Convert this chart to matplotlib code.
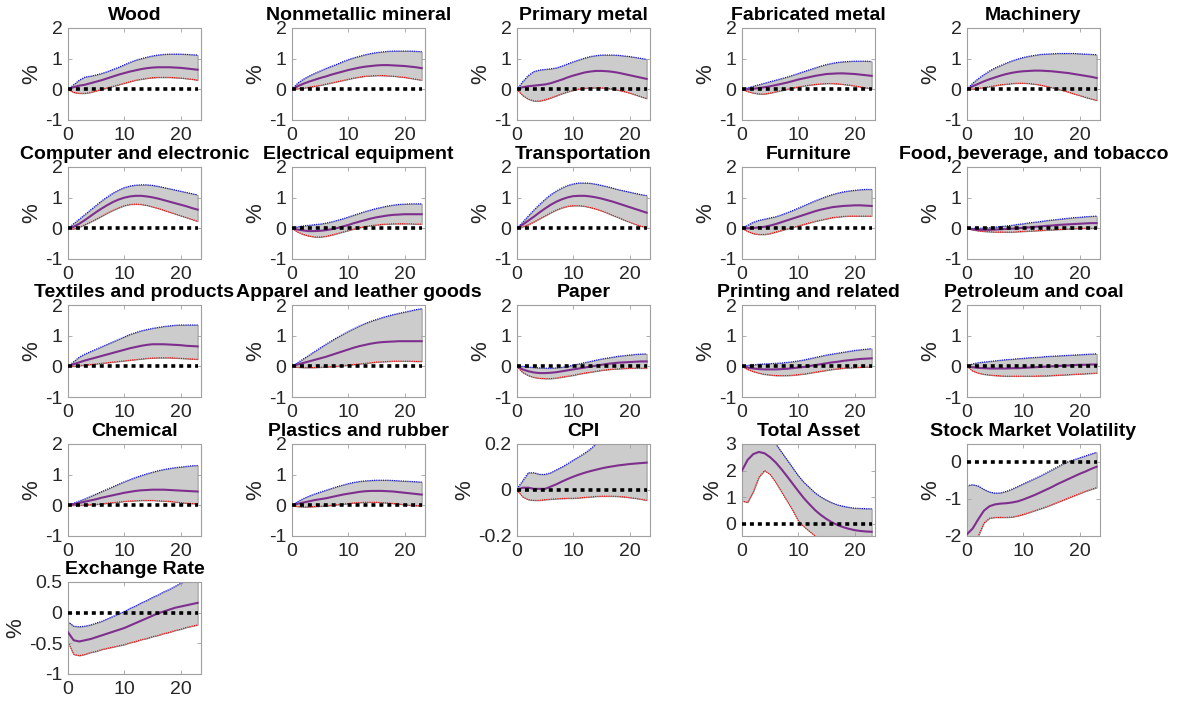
import numpy as np
import matplotlib
matplotlib.use('Agg')
import matplotlib.pyplot as plt

plt.rcParams['font.family'] = ['Liberation Sans', 'DejaVu Sans']

# horizons 0..23
h = list(range(24))

titles = ['Wood', 'Nonmetallic mineral', 'Primary metal', 'Fabricated metal', 'Machinery',
          'Computer and electronic', 'Electrical equipment', 'Transportation', 'Furniture',
          'Food, beverage, and tobacco',
          'Textiles and products', 'Apparel and leather goods', 'Paper', 'Printing and related',
          'Petroleum and coal',
          'Chemical', 'Plastics and rubber', 'CPI', 'Total Asset', 'Stock Market Volatility',
          'Exchange Rate']

# %% impulse responses: median, upper band, lower band
wood_med = [0, 0.07, 0.12, 0.15, 0.2, 0.25, 0.3, 0.36, 0.42, 0.48, 0.53, 0.58, 0.62, 0.66, 0.69, 0.71, 0.72, 0.72, 0.72, 0.71, 0.7, 0.68, 0.66, 0.64]
wood_up = [0, 0.15, 0.3, 0.4, 0.43, 0.47, 0.52, 0.58, 0.65, 0.72, 0.8, 0.88, 0.95, 1.0, 1.05, 1.09, 1.12, 1.14, 1.15, 1.15, 1.15, 1.14, 1.13, 1.12]
wood_lo = [0, -0.1, -0.13, -0.13, -0.1, -0.05, 0.0, 0.05, 0.1, 0.15, 0.2, 0.25, 0.3, 0.33, 0.36, 0.38, 0.39, 0.39, 0.39, 0.38, 0.37, 0.35, 0.33, 0.3]

nonmet_med = [0, 0.1, 0.18, 0.25, 0.31, 0.37, 0.42, 0.48, 0.53, 0.58, 0.63, 0.67, 0.71, 0.74, 0.76, 0.78, 0.79, 0.79, 0.78, 0.77, 0.76, 0.74, 0.72, 0.69]
nonmet_up = [0, 0.2, 0.33, 0.43, 0.52, 0.6, 0.68, 0.75, 0.82, 0.9, 0.97, 1.03, 1.08, 1.13, 1.17, 1.2, 1.22, 1.24, 1.25, 1.25, 1.25, 1.25, 1.24, 1.23]
nonmet_lo = [0, 0.02, 0.04, 0.07, 0.1, 0.13, 0.17, 0.21, 0.25, 0.29, 0.33, 0.37, 0.4, 0.43, 0.44, 0.45, 0.45, 0.44, 0.43, 0.41, 0.39, 0.36, 0.33, 0.3]

primet_med = [0, 0.07, 0.1, 0.12, 0.14, 0.16, 0.2, 0.26, 0.32, 0.39, 0.45, 0.5, 0.55, 0.58, 0.6, 0.6, 0.59, 0.57, 0.54, 0.5, 0.46, 0.42, 0.38, 0.34]
primet_up = [0, 0.25, 0.45, 0.58, 0.63, 0.65, 0.67, 0.7, 0.76, 0.83, 0.9, 0.96, 1.02, 1.07, 1.1, 1.12, 1.12, 1.12, 1.11, 1.09, 1.07, 1.04, 1.01, 0.98]
primet_lo = [0, -0.2, -0.32, -0.38, -0.38, -0.34, -0.28, -0.21, -0.14, -0.08, -0.03, 0.01, 0.03, 0.05, 0.05, 0.05, 0.03, 0.01, -0.03, -0.07, -0.12, -0.18, -0.24, -0.3]

fabmet_med = [0, 0.0, 0.02, 0.04, 0.07, 0.1, 0.14, 0.18, 0.22, 0.27, 0.32, 0.36, 0.4, 0.44, 0.47, 0.5, 0.51, 0.52, 0.52, 0.51, 0.5, 0.48, 0.46, 0.44]
fabmet_up = [0, 0.05, 0.1, 0.15, 0.2, 0.25, 0.3, 0.35, 0.4, 0.46, 0.52, 0.58, 0.64, 0.7, 0.76, 0.81, 0.85, 0.88, 0.9, 0.91, 0.92, 0.92, 0.92, 0.91]
fabmet_lo = [0, -0.07, -0.12, -0.15, -0.15, -0.12, -0.08, -0.04, 0.0, 0.04, 0.08, 0.11, 0.14, 0.16, 0.18, 0.19, 0.19, 0.18, 0.16, 0.14, 0.11, 0.08, 0.05, 0.02]

mach_med = [0, 0.1, 0.18, 0.26, 0.33, 0.39, 0.45, 0.5, 0.54, 0.57, 0.59, 0.6, 0.61, 0.61, 0.6, 0.59, 0.57, 0.55, 0.53, 0.5, 0.47, 0.44, 0.41, 0.37]
mach_up = [0, 0.2, 0.35, 0.48, 0.6, 0.7, 0.78, 0.86, 0.93, 0.99, 1.04, 1.08, 1.11, 1.14, 1.15, 1.16, 1.17, 1.17, 1.17, 1.17, 1.16, 1.15, 1.14, 1.13]
mach_lo = [0, 0.01, 0.03, 0.06, 0.09, 0.12, 0.15, 0.17, 0.19, 0.2, 0.2, 0.19, 0.17, 0.14, 0.1, 0.06, 0.01, -0.04, -0.09, -0.15, -0.2, -0.26, -0.31, -0.36]

comp_med = [0, 0.05, 0.15, 0.27, 0.4, 0.53, 0.65, 0.76, 0.86, 0.94, 1.0, 1.04, 1.06, 1.06, 1.04, 1.01, 0.97, 0.92, 0.87, 0.82, 0.77, 0.72, 0.66, 0.61]
comp_up = [0, 0.15, 0.3, 0.45, 0.6, 0.75, 0.9, 1.03, 1.15, 1.25, 1.33, 1.38, 1.41, 1.42, 1.42, 1.4, 1.37, 1.33, 1.29, 1.25, 1.21, 1.17, 1.13, 1.09]
comp_lo = [0, -0.02, 0.04, 0.12, 0.21, 0.3, 0.4, 0.5, 0.59, 0.67, 0.74, 0.78, 0.79, 0.78, 0.75, 0.7, 0.65, 0.59, 0.53, 0.47, 0.41, 0.35, 0.29, 0.23]

elec_med = [0, -0.04, -0.07, -0.09, -0.09, -0.08, -0.06, -0.03, 0.01, 0.06, 0.11, 0.17, 0.22, 0.27, 0.32, 0.36, 0.39, 0.42, 0.44, 0.45, 0.46, 0.46, 0.46, 0.46]
elec_up = [0, 0.05, 0.08, 0.1, 0.12, 0.14, 0.17, 0.21, 0.26, 0.31, 0.37, 0.43, 0.49, 0.55, 0.6, 0.65, 0.69, 0.73, 0.76, 0.78, 0.79, 0.8, 0.8, 0.8]
elec_lo = [0, -0.12, -0.2, -0.25, -0.28, -0.28, -0.26, -0.22, -0.17, -0.12, -0.07, -0.02, 0.02, 0.06, 0.09, 0.11, 0.13, 0.14, 0.15, 0.15, 0.15, 0.15, 0.14, 0.14]

trans_med = [0, 0.12, 0.25, 0.38, 0.52, 0.65, 0.77, 0.87, 0.95, 1.01, 1.05, 1.06, 1.06, 1.04, 1.01, 0.97, 0.92, 0.87, 0.81, 0.75, 0.69, 0.63, 0.57, 0.51]
trans_up = [0, 0.2, 0.4, 0.6, 0.78, 0.95, 1.1, 1.22, 1.32, 1.4, 1.45, 1.48, 1.48, 1.47, 1.44, 1.4, 1.36, 1.31, 1.26, 1.22, 1.18, 1.14, 1.1, 1.07]
trans_lo = [0, 0.05, 0.12, 0.21, 0.31, 0.41, 0.51, 0.6, 0.67, 0.72, 0.74, 0.74, 0.72, 0.68, 0.63, 0.57, 0.5, 0.42, 0.35, 0.27, 0.2, 0.13, 0.07, 0.03]

furn_med = [0, 0.0, 0.01, 0.03, 0.05, 0.09, 0.14, 0.2, 0.26, 0.32, 0.38, 0.44, 0.5, 0.56, 0.61, 0.65, 0.69, 0.71, 0.73, 0.74, 0.75, 0.75, 0.74, 0.73]
furn_up = [0, 0.1, 0.2, 0.26, 0.3, 0.34, 0.38, 0.44, 0.51, 0.58, 0.66, 0.74, 0.82, 0.9, 0.97, 1.04, 1.1, 1.15, 1.19, 1.22, 1.24, 1.26, 1.27, 1.27]
furn_lo = [0, -0.1, -0.17, -0.2, -0.2, -0.17, -0.12, -0.07, -0.02, 0.03, 0.08, 0.13, 0.18, 0.23, 0.27, 0.31, 0.35, 0.37, 0.39, 0.4, 0.4, 0.4, 0.4, 0.4]

food_med = [0, -0.03, -0.05, -0.05, -0.05, -0.04, -0.03, -0.02, -0.01, 0.0, 0.02, 0.03, 0.05, 0.06, 0.08, 0.09, 0.11, 0.12, 0.13, 0.14, 0.15, 0.16, 0.17, 0.17]
food_up = [0, 0.0, 0.0, 0.01, 0.02, 0.04, 0.06, 0.08, 0.1, 0.13, 0.15, 0.18, 0.2, 0.22, 0.25, 0.27, 0.29, 0.31, 0.33, 0.35, 0.36, 0.38, 0.39, 0.4]
food_lo = [0, -0.05, -0.08, -0.1, -0.11, -0.12, -0.12, -0.12, -0.12, -0.11, -0.1, -0.09, -0.08, -0.07, -0.06, -0.05, -0.04, -0.03, -0.02, -0.01, 0.0, 0.0, 0.0, 0.0]

text_med = [0, 0.07, 0.13, 0.19, 0.24, 0.29, 0.34, 0.39, 0.44, 0.49, 0.54, 0.59, 0.63, 0.67, 0.7, 0.72, 0.72, 0.72, 0.71, 0.7, 0.69, 0.67, 0.66, 0.65]
text_up = [0, 0.15, 0.3, 0.4, 0.48, 0.56, 0.64, 0.72, 0.8, 0.88, 0.96, 1.04, 1.1, 1.16, 1.2, 1.24, 1.27, 1.3, 1.32, 1.34, 1.35, 1.35, 1.35, 1.35]
text_lo = [0, 0.0, 0.02, 0.04, 0.06, 0.08, 0.1, 0.12, 0.14, 0.16, 0.18, 0.2, 0.22, 0.24, 0.26, 0.27, 0.28, 0.28, 0.28, 0.27, 0.26, 0.25, 0.24, 0.23]

app_med = [0, 0.06, 0.11, 0.16, 0.21, 0.26, 0.31, 0.37, 0.43, 0.49, 0.55, 0.61, 0.66, 0.7, 0.74, 0.77, 0.79, 0.8, 0.81, 0.82, 0.82, 0.82, 0.82, 0.82]
app_up = [0, 0.12, 0.24, 0.36, 0.48, 0.6, 0.72, 0.83, 0.94, 1.04, 1.14, 1.23, 1.32, 1.4, 1.47, 1.53, 1.59, 1.64, 1.69, 1.73, 1.77, 1.81, 1.85, 1.88]
app_lo = [0, -0.03, -0.04, -0.04, -0.04, -0.03, -0.02, -0.01, 0.0, 0.02, 0.04, 0.06, 0.08, 0.1, 0.12, 0.14, 0.15, 0.16, 0.17, 0.17, 0.17, 0.17, 0.16, 0.16]

paper_med = [0, -0.1, -0.16, -0.2, -0.22, -0.22, -0.21, -0.19, -0.16, -0.13, -0.1, -0.07, -0.04, -0.01, 0.02, 0.05, 0.08, 0.1, 0.12, 0.13, 0.14, 0.15, 0.16, 0.16]
paper_up = [0, 0.0, -0.02, -0.04, -0.05, -0.06, -0.06, -0.05, -0.03, 0.0, 0.04, 0.08, 0.12, 0.16, 0.2, 0.24, 0.27, 0.3, 0.33, 0.35, 0.37, 0.39, 0.4, 0.41]
paper_lo = [0, -0.2, -0.3, -0.36, -0.39, -0.4, -0.4, -0.38, -0.35, -0.32, -0.29, -0.25, -0.22, -0.19, -0.16, -0.13, -0.11, -0.09, -0.08, -0.07, -0.06, -0.06, -0.06, -0.06]

print_med = [0, -0.04, -0.07, -0.09, -0.1, -0.1, -0.1, -0.09, -0.08, -0.06, -0.04, -0.02, 0.01, 0.04, 0.07, 0.1, 0.13, 0.15, 0.18, 0.2, 0.22, 0.24, 0.25, 0.26]
print_up = [0, 0.03, 0.05, 0.07, 0.08, 0.09, 0.1, 0.11, 0.13, 0.15, 0.18, 0.21, 0.25, 0.29, 0.33, 0.37, 0.4, 0.43, 0.46, 0.49, 0.52, 0.54, 0.56, 0.58]
print_lo = [0, -0.1, -0.17, -0.22, -0.26, -0.28, -0.3, -0.3, -0.3, -0.29, -0.27, -0.25, -0.22, -0.19, -0.16, -0.13, -0.1, -0.08, -0.06, -0.05, -0.04, -0.03, -0.02, -0.02]

petro_med = [0, -0.03, -0.05, -0.06, -0.07, -0.07, -0.07, -0.07, -0.06, -0.06, -0.05, -0.04, -0.03, -0.02, -0.01, 0.0, 0.01, 0.02, 0.03, 0.04, 0.05, 0.05, 0.06, 0.06]
petro_up = [0, 0.08, 0.12, 0.14, 0.16, 0.18, 0.2, 0.22, 0.23, 0.25, 0.26, 0.28, 0.29, 0.3, 0.32, 0.33, 0.34, 0.35, 0.36, 0.37, 0.38, 0.39, 0.4, 0.41]
petro_lo = [0, -0.15, -0.22, -0.26, -0.28, -0.3, -0.31, -0.32, -0.32, -0.32, -0.32, -0.32, -0.32, -0.31, -0.31, -0.3, -0.29, -0.28, -0.27, -0.26, -0.25, -0.24, -0.23, -0.22]

chem_med = [0, 0.04, 0.08, 0.12, 0.16, 0.2, 0.25, 0.29, 0.33, 0.37, 0.41, 0.44, 0.47, 0.49, 0.5, 0.51, 0.51, 0.51, 0.5, 0.49, 0.48, 0.47, 0.46, 0.45]
chem_up = [0, 0.07, 0.14, 0.21, 0.29, 0.37, 0.45, 0.53, 0.61, 0.69, 0.77, 0.84, 0.91, 0.97, 1.03, 1.08, 1.13, 1.17, 1.2, 1.23, 1.25, 1.27, 1.29, 1.3]
chem_lo = [0, 0.0, 0.0, 0.01, 0.02, 0.03, 0.05, 0.07, 0.09, 0.11, 0.13, 0.14, 0.15, 0.16, 0.16, 0.16, 0.15, 0.14, 0.13, 0.11, 0.09, 0.07, 0.06, 0.05]

plast_med = [0, 0.05, 0.09, 0.13, 0.17, 0.2, 0.23, 0.27, 0.31, 0.35, 0.38, 0.41, 0.44, 0.46, 0.47, 0.47, 0.47, 0.46, 0.45, 0.43, 0.41, 0.39, 0.37, 0.35]
plast_up = [0, 0.12, 0.22, 0.3, 0.37, 0.43, 0.49, 0.55, 0.61, 0.66, 0.71, 0.75, 0.78, 0.8, 0.81, 0.82, 0.82, 0.82, 0.81, 0.8, 0.79, 0.78, 0.77, 0.76]
plast_lo = [0, -0.04, -0.05, -0.05, -0.04, -0.03, -0.02, 0.0, 0.02, 0.04, 0.06, 0.08, 0.09, 0.1, 0.1, 0.1, 0.09, 0.08, 0.06, 0.04, 0.02, 0.0, -0.01, -0.02]

cpi_med = [0, 0.01, 0.01, 0.005, 0.005, 0.005, 0.015, 0.025, 0.037, 0.048, 0.058, 0.067, 0.075, 0.082, 0.088, 0.094, 0.099, 0.103, 0.107, 0.11, 0.113, 0.115, 0.117, 0.119]
cpi_up = [0.005, 0.04, 0.075, 0.075, 0.068, 0.068, 0.075, 0.088, 0.1, 0.115, 0.13, 0.145, 0.16, 0.178, 0.2, 0.21, 0.225, 0.24, 0.25, 0.26, 0.27, 0.28, 0.29, 0.3]
cpi_lo = [0, -0.03, -0.042, -0.045, -0.045, -0.042, -0.04, -0.038, -0.037, -0.036, -0.036, -0.034, -0.032, -0.03, -0.028, -0.027, -0.027, -0.027, -0.028, -0.03, -0.033, -0.036, -0.04, -0.045]

asset_med = [2.0, 2.4, 2.62, 2.7, 2.65, 2.5, 2.3, 2.05, 1.78, 1.5, 1.22, 0.95, 0.72, 0.5, 0.32, 0.17, 0.04, -0.06, -0.14, -0.2, -0.25, -0.28, -0.3, -0.31]
asset_up = [2.95, 3.4, 3.6, 3.65, 3.55, 3.3, 3.0, 2.7, 2.4, 2.1, 1.8, 1.55, 1.35, 1.15, 1.0, 0.88, 0.78, 0.7, 0.65, 0.61, 0.58, 0.57, 0.56, 0.56]
asset_lo = [0.85, 0.8, 1.2, 1.75, 2.0, 1.85, 1.55, 1.2, 0.85, 0.5, 0.1, -0.12, -0.3, -0.47, -0.62, -0.75, -0.85, -0.93, -1.0, -1.05, -1.08, -1.1, -1.11, -1.12]

vol_med = [-1.95, -1.8, -1.55, -1.32, -1.2, -1.15, -1.13, -1.12, -1.1, -1.07, -1.02, -0.96, -0.9, -0.83, -0.76, -0.69, -0.61, -0.54, -0.47, -0.4, -0.33, -0.27, -0.2, -0.14]
vol_up = [-0.65, -0.62, -0.66, -0.75, -0.82, -0.85, -0.84, -0.8, -0.74, -0.67, -0.6, -0.53, -0.46, -0.39, -0.31, -0.23, -0.15, -0.07, 0.0, 0.05, 0.1, 0.15, 0.2, 0.25]
vol_lo = [-3.0, -2.5, -2.0, -1.65, -1.52, -1.5, -1.5, -1.5, -1.49, -1.46, -1.42, -1.37, -1.32, -1.27, -1.22, -1.16, -1.1, -1.04, -0.98, -0.92, -0.86, -0.8, -0.75, -0.7]

fx_med = [-0.32, -0.45, -0.47, -0.45, -0.43, -0.4, -0.37, -0.34, -0.31, -0.28, -0.25, -0.21, -0.17, -0.13, -0.09, -0.05, -0.01, 0.02, 0.05, 0.08, 0.1, 0.12, 0.14, 0.16]
fx_up = [-0.15, -0.22, -0.23, -0.22, -0.2, -0.17, -0.14, -0.1, -0.06, -0.02, 0.02, 0.07, 0.11, 0.16, 0.2, 0.25, 0.29, 0.34, 0.38, 0.43, 0.48, 0.52, 0.56, 0.6]
fx_lo = [-0.48, -0.68, -0.7, -0.68, -0.65, -0.63, -0.6, -0.58, -0.56, -0.54, -0.52, -0.49, -0.47, -0.44, -0.42, -0.39, -0.37, -0.34, -0.32, -0.29, -0.27, -0.24, -0.22, -0.2]

meds = [wood_med, nonmet_med, primet_med, fabmet_med, mach_med, comp_med, elec_med, trans_med,
        furn_med, food_med, text_med, app_med, paper_med, print_med, petro_med, chem_med,
        plast_med, cpi_med, asset_med, vol_med, fx_med]
ups = [wood_up, nonmet_up, primet_up, fabmet_up, mach_up, comp_up, elec_up, trans_up,
       furn_up, food_up, text_up, app_up, paper_up, print_up, petro_up, chem_up,
       plast_up, cpi_up, asset_up, vol_up, fx_up]
los = [wood_lo, nonmet_lo, primet_lo, fabmet_lo, mach_lo, comp_lo, elec_lo, trans_lo,
       furn_lo, food_lo, text_lo, app_lo, paper_lo, print_lo, petro_lo, chem_lo,
       plast_lo, cpi_lo, asset_lo, vol_lo, fx_lo]

# special axes limits / ticks
ylims = {'CPI': (-0.2, 0.2), 'Total Asset': (-0.47, 3), 'Stock Market Volatility': (-2, 0.47),
         'Exchange Rate': (-1, 0.5)}
yticks = {'CPI': [-0.2, 0, 0.2], 'Total Asset': [0, 1, 2, 3], 'Stock Market Volatility': [-2, -1, 0],
          'Exchange Rate': [-1, -0.5, 0, 0.5]}

# %%
W, H = 1181, 702
fig = plt.figure(figsize=(W / 100, H / 100), dpi=100)

col_left = [68, 292, 517, 742, 967]
row_top = [28, 167, 305, 444, 582]
aw, ah = 133, 92

purple = (0.494, 0.184, 0.556)
edge = '#a0a0a0'

for i, name in enumerate(titles):
    r, c = divmod(i, 5)
    ax = fig.add_axes([col_left[c] / W, 1 - (row_top[r] + ah) / H, aw / W, ah / H])
    ax.fill_between(h, los[i], ups[i], color='#cccccc', edgecolor='#888888', linewidth=0.6, zorder=1)
    ax.plot(h, ups[i], color='blue', linestyle=(0, (1, 1)), linewidth=0.8, zorder=2)
    ax.plot(h, los[i], color='red', linestyle=(0, (1, 1)), linewidth=0.8, zorder=2)
    ax.plot(h, meds[i], color=purple, linewidth=1.5, zorder=3)
    ax.plot([h[0], h[-1]], [0, 0], color='black', linestyle=(0, (1.1, 1.1)), linewidth=2.6,
            dash_capstyle='butt', zorder=4)

    ax.set_xlim(0, 23.6)
    ax.set_ylim(ylims.get(name, (-1, 2)))
    ax.set_yticks(yticks.get(name, [-1, 0, 1, 2]))
    ax.set_xticks([0, 10, 20])
    ax.yaxis.set_major_formatter(matplotlib.ticker.FuncFormatter(lambda v, p: f'{v:g}'))
    ax.tick_params(direction='in', length=3, width=0.6, color=edge, labelsize=14,
                   labelcolor='#262626', top=True, right=True)
    ax.tick_params(axis='x', pad=5)
    ax.tick_params(axis='y', pad=4)
    for s in ax.spines.values():
        s.set_color(edge)
        s.set_linewidth(0.8)
    ax.set_title(name, fontsize=14, fontweight='bold', pad=6)
    ax.set_ylabel('%', fontsize=16, color='#262626', labelpad=2)

plt.savefig('out.png', dpi=100)
